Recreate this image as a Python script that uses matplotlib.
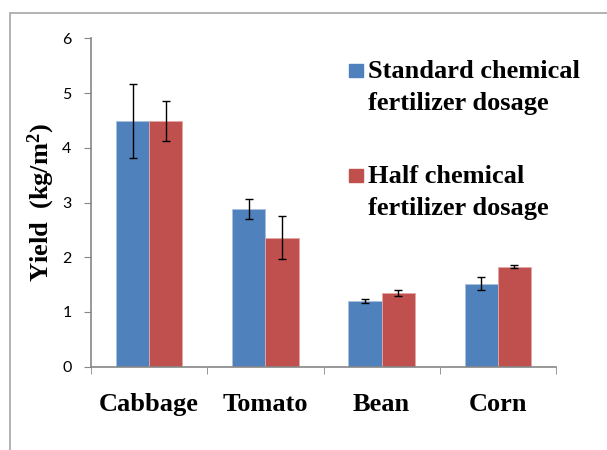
import numpy as np
import matplotlib.pyplot as plt
from matplotlib.patches import Rectangle

crops = ["Cabbage", "Tomato", "Bean", "Corn"]
standard = [4.49, 2.88, 1.20, 1.52]
standard_err = [0.67, 0.18, 0.03, 0.12]
half = [4.49, 2.36, 1.35, 1.83]
half_err = [0.37, 0.39, 0.055, 0.03]
labels = [["Standard chemical", "fertilizer dosage"],
          ["Half chemical", "fertilizer dosage"]]
colors = ["#4F81BD", "#C0504D"]
edges = ["#a9bfdf", "#e2a8a6"]

serif = ["Liberation Serif", "DejaVu Serif"]
grey = "#868686"
W, H = 607, 450

plt.rcParams["mathtext.fontset"] = "custom"
plt.rcParams["mathtext.rm"] = "Liberation Serif"
plt.rcParams["mathtext.bf"] = "Liberation Serif:bold"

fig = plt.figure(figsize=(6.07, 4.5), dpi=100)
ax = fig.add_axes([91 / W, 1 - 366.7 / H, (556 - 91) / W, (366.7 - 38.3) / H])

# chart area border (cropped on right and bottom)
fig.add_artist(Rectangle((10 / W, -0.1), 1.2, 1 - 13 / H + 0.1,
                         transform=fig.transFigure, fill=False,
                         edgecolor="#a6a6a6", linewidth=1.2))

x = np.arange(len(crops))
w = 0.285
err_kw = dict(ecolor="black", elinewidth=1, capsize=3, capthick=1)
ax.bar(x - w / 2, standard, w, yerr=standard_err, color=colors[0],
       edgecolor=edges[0], linewidth=0.6, error_kw=err_kw)
ax.bar(x + w / 2, half, w, yerr=half_err, color=colors[1],
       edgecolor=edges[1], linewidth=0.6, error_kw=err_kw)

ax.set_xlim(-0.5, len(crops) - 0.5)
ax.set_ylim(0, 6)
ax.set_yticks(range(7))
ax.set_xticks(x)
ax.set_xticklabels(crops, fontfamily=serif, fontweight="bold", fontsize=19)
ax.set_xticks(np.arange(-0.5, len(crops)), minor=True)
ax.tick_params(axis="x", which="major", length=0, pad=19)
ax.tick_params(axis="x", which="minor", length=5, color=grey, direction="out")
ax.tick_params(axis="y", length=5, color=grey, pad=9, labelsize=11.5)
for t in ax.get_yticklabels():
    t.set_fontfamily(["Lato", "DejaVu Sans"])

for s in ["top", "right"]:
    ax.spines[s].set_visible(False)
for s in ["left", "bottom"]:
    ax.spines[s].set_color(grey)
    ax.spines[s].set_linewidth(1.2)

ax.set_ylabel("Yield  (kg/m$\\mathbf{^2}$)", fontfamily=serif, fontweight="bold",
              fontsize=19, labelpad=4)

# legend: square marker beside first line of each two-line label
for i, (lines, c) in enumerate(zip(labels, colors)):
    base = 78 + 105 * i
    fig.add_artist(Rectangle((349 / W, 1 - (base - 1) / H), 14 / W, 13 / H,
                             transform=fig.transFigure, color=c))
    for j, line in enumerate(lines):
        fig.text(368 / W, 1 - (base + 32 * j) / H, line, fontfamily=serif,
                 fontweight="bold", fontsize=19, ha="left", va="baseline")

fig.savefig("out.png", dpi=100)
